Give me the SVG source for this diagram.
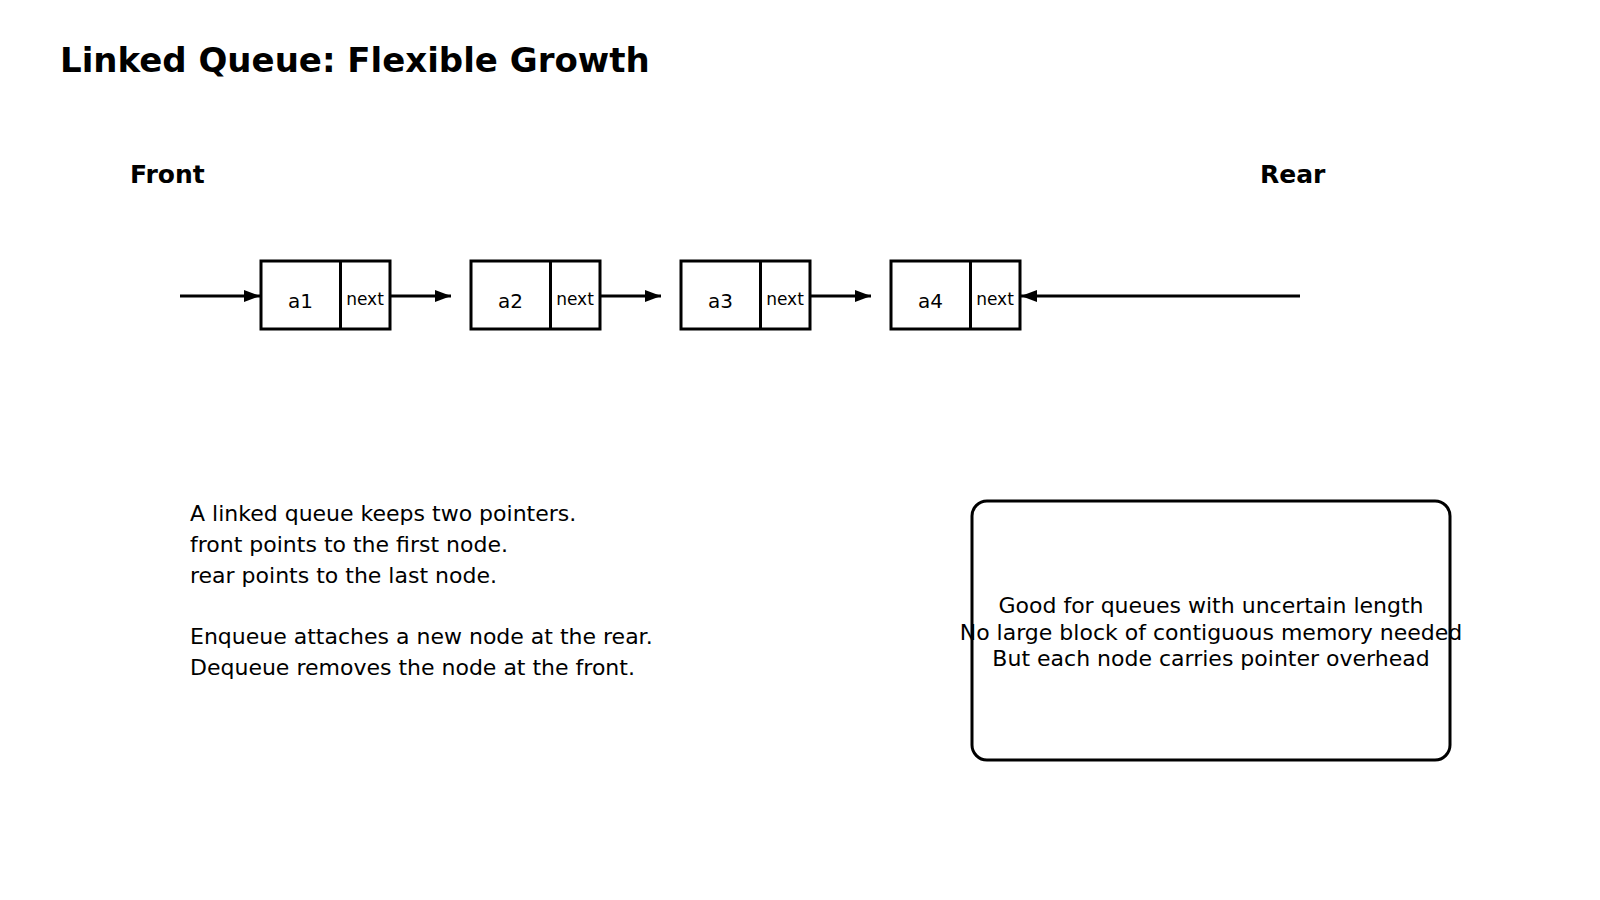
<svg xmlns="http://www.w3.org/2000/svg" width="1600" height="900" viewBox="0 0 1600 900">
<style>
text{font-family:"DejaVu Sans","Liberation Sans",sans-serif;fill:#000}
.title{font-size:34px;font-weight:bold}
.label{font-size:25px;font-weight:bold}
.val{font-size:20px;text-anchor:middle}
.nx{font-size:17px;text-anchor:middle}
.desc{font-size:22px}
.note{font-size:22px;text-anchor:middle}
.cell{fill:#fff;stroke:#000;stroke-width:3}
.edge{stroke:#000;stroke-width:3;fill:none}
</style>
<defs>
<marker id="ah" viewBox="0 0 16 12" refX="16" refY="6" markerWidth="16" markerHeight="12" markerUnits="userSpaceOnUse" orient="auto">
<path d="M0,0 L16,6 L0,12 z" fill="#000"/>
</marker>
</defs>
<rect width="1600" height="900" fill="#fff"/>
<text class="title" x="60" y="72">Linked Queue: Flexible Growth</text>
<g id="front-label"><text class="label" x="130" y="183">Front</text></g>
<g id="rear-label"><text class="label" x="1260" y="183">Rear</text></g>
<g id="node-a1">
<rect class="cell" x="261" y="261" width="129" height="68"/>
<line class="edge" x1="340.5" y1="261" x2="340.5" y2="329"/>
<text class="val" x="300.5" y="308">a1</text>
<text class="nx" x="365" y="305">next</text>
</g>
<g id="node-a2">
<rect class="cell" x="471" y="261" width="129" height="68"/>
<line class="edge" x1="550.5" y1="261" x2="550.5" y2="329"/>
<text class="val" x="510.5" y="308">a2</text>
<text class="nx" x="575" y="305">next</text>
</g>
<g id="node-a3">
<rect class="cell" x="681" y="261" width="129" height="68"/>
<line class="edge" x1="760.5" y1="261" x2="760.5" y2="329"/>
<text class="val" x="720.5" y="308">a3</text>
<text class="nx" x="785" y="305">next</text>
</g>
<g id="node-a4">
<rect class="cell" x="891" y="261" width="129" height="68"/>
<line class="edge" x1="970.5" y1="261" x2="970.5" y2="329"/>
<text class="val" x="930.5" y="308">a4</text>
<text class="nx" x="995" y="305">next</text>
</g>
<g id="connectors">
<line class="edge" x1="180" y1="296" x2="260" y2="296" marker-end="url(#ah)"/>
<line class="edge" x1="390" y1="296" x2="451" y2="296" marker-end="url(#ah)"/>
<line class="edge" x1="600" y1="296" x2="661" y2="296" marker-end="url(#ah)"/>
<line class="edge" x1="810" y1="296" x2="871" y2="296" marker-end="url(#ah)"/>
<line class="edge" x1="1300" y1="296" x2="1021" y2="296" marker-end="url(#ah)"/>
</g>
<g id="description">
<text class="desc" x="190" y="521">A linked queue keeps two pointers.</text>
<text class="desc" x="190" y="552">front points to the first node.</text>
<text class="desc" x="190" y="583">rear points to the last node.</text>
<text class="desc" x="190" y="644">Enqueue attaches a new node at the rear.</text>
<text class="desc" x="190" y="675">Dequeue removes the node at the front.</text>
</g>
<g id="note-box">
<rect x="972" y="501" width="478" height="259" rx="15" ry="15" fill="#fff" stroke="#000" stroke-width="3"/>
<text class="note" x="1211" y="613">Good for queues with uncertain length</text>
<text class="note" x="1211" y="640">No large block of contiguous memory needed</text>
<text class="note" x="1211" y="666">But each node carries pointer overhead</text>
</g>
</svg>
